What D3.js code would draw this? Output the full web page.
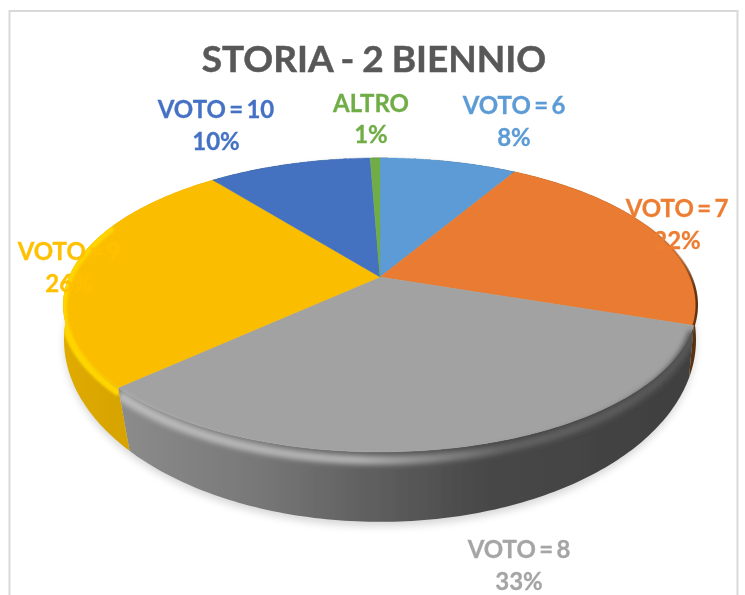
<!DOCTYPE html>
<html><head><meta charset="utf-8">
<script src="https://cdn.jsdelivr.net/npm/d3@7/dist/d3.min.js"></script>
<style>html,body{margin:0;padding:0;background:#fff;overflow:hidden}
svg{display:block}text{font-family:Lato,"Open Sans",sans-serif;font-weight:700;text-anchor:middle}</style>
</head><body><svg id="c" width="745" height="595"></svg>
<script>
const titleText = "STORIA - 2 BIENNIO";
const categories = ["VOTO = 6","VOTO = 7","VOTO = 8","VOTO = 9","VOTO = 10","ALTRO"];
const shares = [8.4, 21.8, 32.9, 26.3, 10.0, 0.6];
const shownPct = ["8%","22%","33%","26%","10%","1%"];
const faceColors = ["#5B9BD5","#E97B30","#A2A2A2","#FBBD00","#4472C0","#70AD47"];
const labelColors = ["#5B9BD5","#ED7D31","#A5A5A5","#FFC000","#4472C4","#70AD47"];
const labelAt = [[514,114,146],[677,217,249],[519,558,590],[69,260,292],[216,118,150],[371,112,143]];

const svg = d3.select("#c");
const defs = svg.append("defs");
const blur = (id,s)=>defs.append("filter").attr("id",id).attr("filterUnits","userSpaceOnUse")
  .attr("x",0).attr("y",0).attr("width",745).attr("height",595)
  .append("feGaussianBlur").attr("stdDeviation",s);
blur("b2",2.4); blur("b1",1.3); blur("b4",4.5); blur("b0",0.45);
const grad=(id,x1,x2,stops)=>{const g=defs.append("linearGradient").attr("id",id).attr("gradientUnits","userSpaceOnUse")
  .attr("x1",x1).attr("x2",x2).attr("y1",0).attr("y2",0);
  stops.forEach(s=>g.append("stop").attr("offset",s[0]).attr("stop-color",s[1]).attr("stop-opacity",s[2]===undefined?1:s[2]));};
grad("wallGray",118,690,[[0,"#8c8c8c"],[.25,"#777777"],[.45,"#5e5e5e"],[.65,"#474747"],[1,"#404040"]]);
grad("wallGold",60,125,[[0,"#e0ac00"],[1,"#d6a300"]]);
grad("bevelGray",118,690,[[0,"#bcbcbc"],[.42,"#b0b0b0"],[.54,"#8c8c8c"],[.68,"#626262"],[1,"#565656"]]);
grad("edgeOrange",640,696,[[0,"#7a3a10",0],[.7,"#7a3a10",.25],[1,"#5a2a08",.95]]);

// chart frame
svg.append("rect").attr("x",9.5).attr("y",11).attr("width",728).attr("height",620)
  .attr("fill","#fff").attr("stroke","#d9d9d9").attr("stroke-width",2);

// perspective projection of the unit disc
const plane = (cx,cy,a,b,k)=>ang=>{const u=Math.sin(ang),v=Math.cos(ang),d=1+k*v;return [cx+a*u/d, cy-b*v/d];};
const topRim = plane(380,277,311,141.7,0.19);
const botRim = plane(380,318,313.7,179.4,0.12);
const lerpRim = f=>ang=>{const p=topRim(ang),q=botRim(ang);return [p[0]+(q[0]-p[0])*f,p[1]+(q[1]-p[1])*f];};

const arcs = d3.pie().sort(null).value(d=>d).startAngle(0).endAngle(2*Math.PI)(shares);
const line = d3.line();
const samples=(a0,a1)=>d3.range(0,121).map(i=>a0+(a1-a0)*i/120);
const rimPts=(fn,a0,a1)=>samples(a0,a1).map(fn);
const apex=[380,277];
const facePath=s=>line([apex].concat(rimPts(topRim,s.startAngle,s.endAngle)))+"Z";
const wallPath=s=>line(rimPts(topRim,s.startAngle,s.endAngle).concat(rimPts(botRim,s.endAngle,s.startAngle)))+"Z";

// soft shadow
svg.append("path").attr("d",line(rimPts(plane(380,322,313,179.5,0.12),0,2*Math.PI))+"Z")
  .attr("fill","#000").attr("opacity",.17).attr("filter","url(#b4)");

const pie = svg.append("g").attr("filter","url(#b0)");
// side walls
const wallFill=["#333","#5a3010","url(#wallGray)","url(#wallGold)","#333","#333"];
arcs.forEach((s,i)=>pie.append("path").attr("d",wallPath(s)).attr("fill",wallFill[i]));
// top faces
arcs.forEach((s,i)=>pie.append("path").attr("d",facePath(s))
    .attr("fill",faceColors[i]).attr("stroke",faceColors[i]).attr("stroke-width",.4));

// rim bevels, clipped to their own slice
const bevelClip=(id,s)=>{const c=defs.append("clipPath").attr("id",id);
  c.append("path").attr("d",facePath(s)); c.append("path").attr("d",wallPath(s));};
const gold=arcs[3], gray=arcs[2], orange=arcs[1];
bevelClip("clipGold",gold); bevelClip("clipGray",gray);
pie.append("g").attr("clip-path","url(#clipGold)").append("path")
  .attr("d",line(rimPts(lerpRim(.09),gold.startAngle,gold.startAngle+1.15)))
  .attr("fill","none").attr("stroke","#ffd500").attr("stroke-width",7).attr("filter","url(#b1)");
pie.append("g").attr("clip-path","url(#clipGray)").append("path")
  .attr("d",line(rimPts(lerpRim(.12),gray.startAngle,gray.endAngle)))
  .attr("fill","none").attr("stroke","url(#bevelGray)").attr("stroke-width",9).attr("filter","url(#b2)");
pie.append("path").attr("d",line(rimPts(topRim,orange.startAngle+.6,orange.endAngle)))
  .attr("fill","none").attr("stroke","url(#edgeOrange)").attr("stroke-width",2.5);

// title + labels
const txt = svg.append("g").attr("filter","url(#b0)");
txt.append("text").attr("x",374).attr("y",72).attr("font-size",37).attr("fill","#595959")
  .attr("stroke","#595959").attr("stroke-width",.5).attr("word-spacing",-1).text(titleText);
categories.forEach((c,i)=>{
  const g=txt.append("g").attr("fill",labelColors[i]).attr("stroke",labelColors[i]).attr("stroke-width",.3).attr("font-size",24).attr("word-spacing",-2.5);
  g.append("text").attr("x",labelAt[i][0]).attr("y",labelAt[i][1]).text(c);
  g.append("text").attr("x",labelAt[i][0]).attr("y",labelAt[i][2]).text(shownPct[i]);
});
</script></body></html>
